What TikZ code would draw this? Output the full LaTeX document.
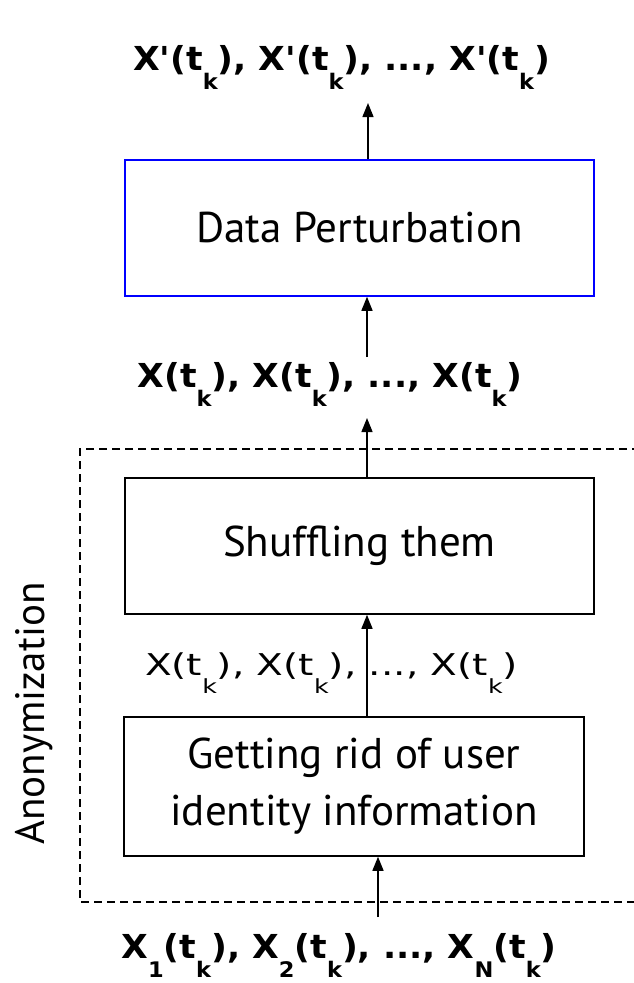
\documentclass[tikz,border=0pt]{standalone}
\usepackage{fontspec}
\setmainfont{PT Sans}
\newfontfamily\seqfont[FakeStretch=1.05]{DejaVu Sans}
\newfontfamily\seqthinfont[FakeStretch=1.3]{DejaVu Sans}
\usetikzlibrary{arrows.meta}
% small subscript set well below the baseline
\newcommand\sbk[1]{\raisebox{-0.6em}{\scalebox{0.65}{#1}}}

\begin{document}
\begin{tikzpicture}[x=1pt,y=1pt,
  stage/.style={draw, line width=1.5pt, minimum width=469pt, minimum height=136pt,
    inner sep=0pt, align=center, font=\fontsize{43}{57}\selectfont},
  seqbold/.style={anchor=base, inner sep=0pt, font=\seqfont\bfseries\fontsize{33}{40}\selectfont},
  seqthin/.style={anchor=base, inner sep=0pt, font=\seqthinfont\fontsize{30}{36}\selectfont},
  arr/.style={line width=1.4pt, -{Triangle[length=14pt,width=11pt]}},
  group/.style={line width=1.3pt, dash pattern=on 8pt off 5pt}
]
\useasboundingbox (0,0) rectangle (633,-983);

% processing stages
\node[stage, draw={rgb,255:red,0;green,0;blue,255}] (dp) at (359.5,-228) {Data Perturbation};
\node[stage] (shuf) at (359.5,-546) {Shuffling them};
\node[stage, minimum width=460pt, minimum height=139pt] (rid) at (354,-786.5)
  {Getting rid of user\\identity information};

% data sequences
\node[seqbold] (out) at (341.5,-70) {X'(t\sbk{k}), X'(t\sbk{k}), ..., X'(t\sbk{k})};
\node[seqbold] (anon) at (330,-387) {X(t\sbk{k}), X(t\sbk{k}), ..., X(t\sbk{k})};
\node[seqthin] (strip) at (331.5,-675) {X(t\sbk{k}), X(t\sbk{k}), ..., X(t\sbk{k})};
\node[seqbold] (in) at (339,-958) {X\sbk{1}(t\sbk{k}), X\sbk{2}(t\sbk{k}), ..., X\sbk{N}(t\sbk{k})};

% anonymization group
\draw[group] (640,-449) -- (80,-449) -- (80,-902) -- (640,-902);
\node[rotate=90, anchor=base, inner sep=0pt, font=\fontsize{41}{50}\selectfont] (grp) at (44,-713.5) {Anonymization};

% connector ends
\coordinate (outtip) at (368,-103);
\coordinate (anontop) at (367,-357);
\coordinate (anontip) at (367,-418);
\coordinate (inbot) at (378,-917);

\draw[arr] (dp.north -| outtip) -- (outtip);
\draw[arr] (anontop) -- (anontop |- dp.south);
\draw[arr] (shuf.north -| anontip) -- (anontip);
\draw[arr] (rid.north -| anontip) -- (anontip |- shuf.south);
\draw[arr] (inbot) -- (inbot |- rid.south);
\end{tikzpicture}
\end{document}
